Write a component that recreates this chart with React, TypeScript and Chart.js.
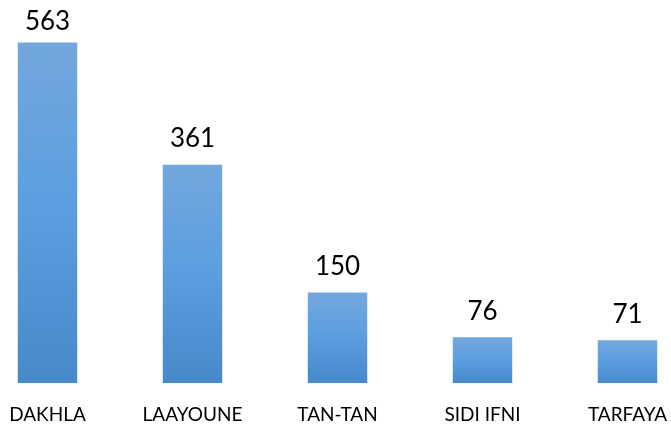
import React, { useEffect, useRef } from "react";
import { Chart, registerables } from "chart.js";

Chart.register(...registerables);

const categories = ["DAKHLA", "LAAYOUNE", "TAN-TAN", "SIDI IFNI", "TARFAYA"];
const values = [563, 361, 150, 76, 71];

const valueLabels = {
  id: "valueLabels",
  afterDatasetsDraw(chart: any) {
    const ctx = chart.ctx;
    const meta = chart.getDatasetMeta(0);
    ctx.save();
    ctx.font = "26px Lato";
    ctx.fillStyle = "#000000";
    ctx.textAlign = "center";
    ctx.textBaseline = "alphabetic";
    meta.data.forEach((bar: any, i: number) => {
      // keep the label inside the canvas top, otherwise sit above the bar
      const yBase = Math.max(bar.y - 17.5, 29.5);
      ctx.fillText(String(values[i]), bar.x, yBase);
    });
    ctx.restore();
  },
};

export default function App() {
  const ref = useRef<HTMLCanvasElement | null>(null);
  useEffect(() => {
    const canvas = ref.current;
    if (!canvas) return;
    const chart = new Chart(canvas, {
      type: "bar",
      data: {
        labels: categories,
        datasets: [
          {
            data: values,
            categoryPercentage: 1,
            barPercentage: 0.41,
            backgroundColor: (context: any) => {
              const c = context.chart;
              const ys = c.scales?.y;
              if (!ys || context.raw == null) return "#5a9ee0";
              const top = ys.getPixelForValue(context.raw);
              const bottom = ys.getPixelForValue(0);
              if (!isFinite(top) || !isFinite(bottom) || top === bottom) return "#5a9ee0";
              const g = c.ctx.createLinearGradient(0, top, 0, bottom);
              g.addColorStop(0, "#73a7dd");
              g.addColorStop(0.5, "#5a9ee0");
              g.addColorStop(1, "#4789c9");
              return g;
            },
          },
        ],
      },
      options: {
        animation: false,
        responsive: false,
        maintainAspectRatio: false,
        layout: { padding: { top: 20, bottom: 0, left: 0, right: 0 } },
        plugins: { legend: { display: false }, tooltip: { enabled: false } },
        scales: {
          x: {
            grid: { display: false, drawTicks: false },
            border: { display: false },
            ticks: {
              color: "#000000",
              font: { family: "Lato", size: 19 },
              padding: 20,
              maxRotation: 0,
              autoSkip: false,
            },
          },
          y: {
            display: false,
            min: 0,
            max: 600,
          },
        },
      },
      plugins: [valueLabels],
    });
    return () => chart.destroy();
  }, []);

  return (
    <div
      style={{
        position: "fixed",
        left: 0,
        top: 0,
        width: 671,
        height: 425,
        overflow: "hidden",
        background: "#ffffff",
      }}
    >
      <canvas
        ref={ref}
        width={725}
        height={446}
        style={{ position: "absolute", left: -25, top: 0, width: 725, height: 446 }}
      />
    </div>
  );
}
